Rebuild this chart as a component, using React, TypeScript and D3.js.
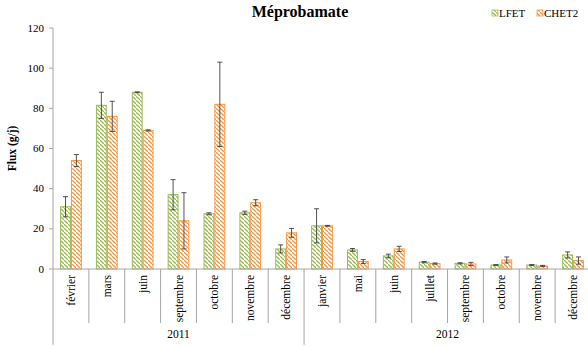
import * as d3 from "d3";

const months2011 = ["février", "mars", "juin", "septembre", "octobre", "novembre", "décembre"];
const months2012 = ["janvier", "mai", "juin", "juillet", "septembre", "octobre", "novembre", "décembre"];
const years = ["2011", "2012"];

const lfet = [31, 81.5, 88, 37, 27.5, 28, 10, 21.5, 9.5, 6.5, 3.4, 2.8, 2, 2, 7];
const lfetErr = [5, 6.5, 0.2, 7.5, 0.5, 0.8, 2, 8.5, 0.7, 0.9, 0.3, 0.3, 0.2, 0.2, 1.5];
const chet2 = [54, 76, 69, 24, 82, 33, 18, 21.5, 3.7, 10, 2.7, 2.5, 4.5, 1.5, 4.2];
const chet2Err = [3, 7.5, 0.3, 14, 21, 1.5, 2.2, 0.2, 1, 1.3, 0.3, 0.8, 1.5, 0.3, 1.8];

const yTicks = [0, 20, 40, 60, 80, 100, 120];

const W = 588;
const H = 347;
const left = 53;
const right = 591;
const top = 28;
const bottom = 269;

const GREEN = "#9BBB59";
const ORANGE = "#F79646";
const FONT = "Liberation Serif, Times New Roman, DejaVu Serif, serif";

export default function App() {
  const keys = [
    ...months2011.map((m, i) => `2011-${i}`),
    ...months2012.map((m, i) => `2012-${i}`),
  ];
  const labels = [...months2011, ...months2012];

  const x = d3.scaleBand<string>().domain(keys).range([left, right]);
  const inner = d3.scaleBand<string>().domain(["LFET", "CHET2"]).range([0, x.bandwidth()]).paddingInner(0).paddingOuter(0.65);
  const y = d3.scaleLinear().domain([0, 120]).range([bottom, top]);

  const series = [
    { name: "LFET", values: lfet, err: lfetErr, color: GREEN, pat: "hatchG" },
    { name: "CHET2", values: chet2, err: chet2Err, color: ORANGE, pat: "hatchO" },
  ];

  const yearSplit = x(keys[months2011.length])!;
  const axisColor = "#A6A6A6";

  return (
    <svg width={W} height={H} style={{ position: "absolute", left: 0, top: 0, background: "#fff", fontFamily: FONT }}>
      <defs>
        {series.map((s) => (
          <pattern key={s.pat} id={s.pat} patternUnits="userSpaceOnUse" width={4} height={4}>
            <rect width={4} height={4} fill="#fff" />
            <path d="M-1,-1 l2,2 M0,0 l4,4 M3,3 l2,2" stroke={s.color} strokeWidth={1.3} />
          </pattern>
        ))}
      </defs>

      <text x={300} y={17} textAnchor="middle" fontWeight="bold" fontSize={16}>Méprobamate</text>

      {/* legend */}
      {series.map((s, i) => {
        const lx = 492 + i * 45;
        return (
          <g key={s.name}>
            <rect x={lx} y={10} width={6} height={6} fill={`url(#${s.pat})`} stroke={s.color} strokeWidth={0.8} />
            <text x={lx + 7} y={16.5} fontSize={11}>{s.name}</text>
          </g>
        );
      })}

      {/* y axis */}
      <line x1={left} x2={left} y1={top} y2={345} stroke={axisColor} />
      {yTicks.map((t) => (
        <g key={t}>
          <line x1={left - 4} x2={left} y1={y(t)} y2={y(t)} stroke={axisColor} />
          <text x={left - 9} y={y(t) + 3.5} textAnchor="end" fontSize={11}>{t}</text>
        </g>
      ))}
      <text transform={`translate(16,${(top + bottom) / 2}) rotate(-90)`} textAnchor="middle" fontWeight="bold" fontSize={11.5}>
        Flux (g/j)
      </text>

      {/* bars */}
      {series.map((s) => (
        <g key={s.name}>
          {keys.map((k, i) => {
            const bx = x(k)! + inner(s.name)!;
            const bw = inner.bandwidth();
            return (
              <rect key={k} x={bx + 0.5} y={y(s.values[i])} width={bw - 1} height={bottom - y(s.values[i])}
                fill={`url(#${s.pat})`} stroke={s.color} strokeWidth={1} />
            );
          })}
        </g>
      ))}

      {/* error bars */}
      {series.map((s) => (
        <g key={s.name + "err"} stroke="#404040" strokeWidth={0.9}>
          {keys.map((k, i) => {
            const cx = x(k)! + inner(s.name)! + inner.bandwidth() / 2;
            const y1 = y(s.values[i] + s.err[i]);
            const y2 = y(s.values[i] - s.err[i]);
            return (
              <g key={k}>
                <line x1={cx} x2={cx} y1={y1} y2={y2} />
                <line x1={cx - 2.5} x2={cx + 2.5} y1={y1} y2={y1} />
                <line x1={cx - 2.5} x2={cx + 2.5} y1={y2} y2={y2} />
              </g>
            );
          })}
        </g>
      ))}

      {/* x axis */}
      <line x1={left} x2={W} y1={bottom} y2={bottom} stroke={axisColor} />
      {keys.map((k, i) =>
        i === 0 ? null : (
          <line key={k} x1={x(k)!} x2={x(k)!} y1={bottom} y2={i === months2011.length ? 345 : 323} stroke={axisColor} />
        )
      )}
      {keys.map((k, i) => (
        <text key={k + "l"} transform={`translate(${x(k)! + x.bandwidth() / 2 + 4},${bottom + 6}) rotate(-90)`}
          textAnchor="end" fontSize={11.5}>
          {labels[i]}
        </text>
      ))}
      {years.map((yr, i) => {
        const x0 = i === 0 ? left : yearSplit;
        const x1 = i === 0 ? yearSplit : right;
        return (
          <text key={yr} x={(x0 + x1) / 2} y={338} textAnchor="middle" fontSize={11.5}>{yr}</text>
        );
      })}
    </svg>
  );
}
